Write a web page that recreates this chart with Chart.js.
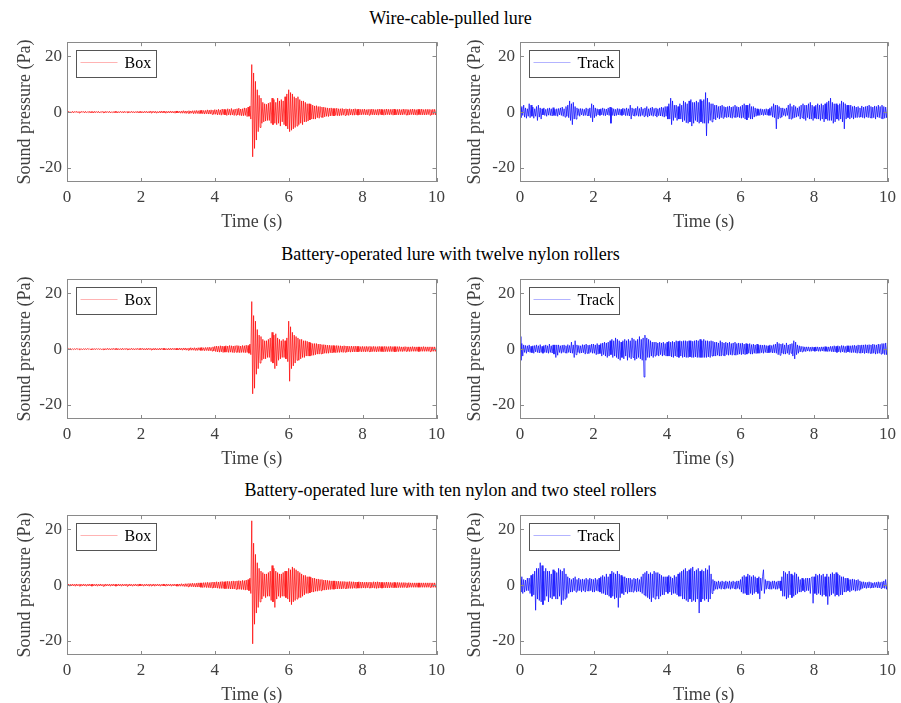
<!DOCTYPE html>
<html lang="en">
<head>
    <meta charset="UTF-8">
    <title>Sound pressure of lures</title>
    <script src="https://cdn.jsdelivr.net/npm/chart.js"></script>
    <style>
        body {
            margin: 0;
            background: #fff;
            overflow: hidden;
            font-family: "Liberation Serif", serif;
        }
        .page {
            position: relative;
            width: 901px;
            height: 703px;
        }
        .row-title {
            position: absolute;
            left: 0;
            width: 901px;
            text-align: center;
            font-size: 18px;
            color: #000;
            line-height: 20px;
        }
        canvas {
            position: absolute;
        }
    </style>
</head>
<body>
<div class="page" id="page">
    <div class="row-title" style="top: 8px;">Wire-cable-pulled lure</div>
    <div class="row-title" style="top: 244px;">Battery-operated lure with twelve nylon rollers</div>
    <div class="row-title" style="top: 480px;">Battery-operated lure with ten nylon and two steel rollers</div>
</div>
<script>
    // sampling step of the traces below (s), 40 samples per second
    const tStep = 0.025;
    const xTicks = [0, 2, 4, 6, 8, 10];
    const yTicks = [-20, 0, 20];

    // wire-cable-pulled lure
    const boxWire = [
        0.3,-0.2,0.2,-0.3,0.1,-0.2,0.3,-0.3,0.2,-0.1, 0.3,-0.2,0.2,-0.3,0.2,-0.2,0.3,-0.1,0.2,-0.3,
        0.3,-0.2,0.1,-0.2,0.3,-0.3,0.2,-0.2,0.2,-0.3, 0.3,-0.2,0.2,-0.2,0.3,-0.3,0.1,-0.2,0.3,-0.2,
        0.2,-0.3,0.3,-0.2,0.2,-0.2,0.3,-0.3,0.1,-0.2, 0.2,-0.3,0.3,-0.2,0.2,-0.3,0.2,-0.2,0.3,-0.2,
        0.2,-0.3,0.3,-0.2,0.2,-0.2,0.3,-0.3,0.2,-0.2, 0.3,-0.2,0.2,-0.3,0.2,-0.2,0.3,-0.3,0.2,-0.2,
        0.3,-0.3,0.2,-0.3,0.3,-0.2,0.3,-0.3,0.2,-0.3, 0.4,-0.3,0.3,-0.2,0.3,-0.3,0.3,-0.4,0.2,-0.3,
        0.3,-0.3,0.4,-0.3,0.3,-0.2,0.3,-0.4,0.3,-0.3, 0.3,-0.3,0.4,-0.3,0.3,-0.3,0.3,-0.4,0.4,-0.3,
        0.4,-0.3,0.3,-0.4,0.4,-0.4,0.5,-0.4,0.4,-0.5, 0.4,-0.4,0.5,-0.5,0.4,-0.4,0.5,-0.6,0.5,-0.5,
        0.6,-0.5,0.5,-0.6,0.6,-0.5,0.7,-0.6,0.6,-0.7, 0.6,-0.6,0.8,-0.7,0.7,-0.7,0.8,-0.8,0.7,-0.8,
        0.9,-0.8,0.8,-1.0,1.0,-0.9,0.8,-1.1,1.1,-0.9, 1.0,-1.0,0.9,-1.2,1.2,-1.0,1.0,-1.1,1.3,-1.0,
        0.9,-1.2,1.1,-1.1,1.2,-1.0,1.4,-1.2,1.1,-1.3, 1.2,-1.3,1.5,-1.2,1.4,-1.6,1.8,-1.5,2.2,-2.5,
        17,-16,14,-13,11,-10,8,-7,6,-5.5, 5,-4,3.5,-3.5,3,-3.2,2.8,-3,3.2,-3,
        3.5,-4,5,-4.5,4.5,-4,3.5,-4.5,5,-4, 4,-5,4.5,-3.5,4,-4.5,5.5,-5,6.5,-6,
        8,-7,7,-6.5,6.5,-6,5.5,-5.5,5,-5, 5.5,-4.5,4.5,-4,4,-4.5,4,-3.5,3.5,-3.5,
        3,-3.2,3,-2.8,2.8,-2.5,2.5,-2.5,2.2,-2.5, 2.3,-2,2,-2.2,2,-1.8,1.8,-2,1.8,-1.7,
        1.6,-1.5,1.5,-1.6,1.4,-1.4,1.5,-1.3,1.3,-1.4, 1.3,-1.2,1.4,-1.3,1.2,-1.3,1.2,-1.2,1.3,-1.1,
        1.1,-1.2,1.2,-1.1,1.1,-1.2,1.2,-1.0,1.0,-1.1, 1.1,-1.1,1.2,-1.0,1.0,-1.1,1.1,-1.0,1.0,-1.0,
        1.0,-0.9,1.1,-1.0,0.9,-1.0,1.0,-1.1,1.0,-0.9, 1.1,-1.0,1.0,-1.0,0.9,-1.0,1.0,-1.1,1.1,-0.9,
        1.0,-1.0,0.9,-1.1,1.0,-1.0,1.1,-0.9,1.0,-1.0, 1.0,-0.9,1.0,-1.1,1.1,-1.0,0.9,-1.0,1.0,-1.0,
        1.0,-1.0,0.9,-1.0,1.1,-0.9,1.0,-1.0,1.0,-1.1, 0.9,-1.0,1.0,-0.9,1.1,-1.0,1.0,-1.0,0.9,-1.1,
        1.0,-0.9,1.0,-1.0,1.1,-1.0,0.9,-1.0,1.0,-1.0, 1.0,-0.9,1.0,-1.1,0.9,-1.0,1.0,-0.9,1.0,-1.0,
        0.9
    ];
    const trackWire = [
        1.5,-2,2,-1.2,2.5,-1.8,1.5,-2.2,1.2,-1.5, 3,-2,2.5,-1.5,1.8,-2.2,1.2,-1.5,2,-3,
        2.5,-1.8,1.5,-2.5,1.2,-1,1.5,-1.2,1,-1.5, 1.3,-1.1,1.5,-1.2,1.2,-1.4,1.6,-1.2,1,-1.3,
        1.2,-1.5,1.3,-1,1.5,-1.2,1.8,-1.5,1.2,-1.8, 2,-1.5,2.5,-2,4,-3,3,-4.5,3.5,-2.5,
        2,-2.5,1.5,-1.2,1.2,-1.5,1.3,-1,1.2,-1.3, 1,-1.2,1.5,-1.2,1.2,-1.4,1.5,-2,3,-3.5,
        2.5,-2,1.5,-1.5,1.2,-1,1,-1.2,1.2,-1, 1.5,-1.2,1.2,-1.3,1.1,-1,1.5,-1.2,1.8,-4,
        1.5,-1.2,1.2,-1.4,1,-1.2,1.3,-1,1.2,-1.1, 1,-1.2,1.4,-1,1.2,-1.3,1.5,-1.2,1.2,-1.4,
        2.5,-2.5,1.5,-1.2,1.2,-1.5,1.4,-1.2,2,-1.5, 1.3,-1.5,1.8,-1.2,1.2,-1.6,1.5,-1.3,2,-1.8,
        1.2,-1.4,1.5,-1.2,1.8,-1.5,1.3,-1.2,1.5,-1.8, 1.2,-1.3,1.5,-1.4,1.8,-1.5,1.6,-1.8,2,-1.5,
        2,-2.5,3,-2.5,5,-4.5,4,-3,2.5,-2, 2.5,-3,2,-2.5,3,-2.5,2.5,-3.5,4,-3,
        3.5,-3.8,3,-4,4,-3.5,4.5,-5,3.5,-4, 3.5,-3,4,-3.5,3.5,-4,4.5,-3.5,4,-4,
        4.5,-4,7,-8.5,5,-4,3.5,-3,3,-3.5, 3,-2.5,2.5,-2.8,2.5,-2,2,-2.5,2.2,-2,
        2.5,-2.2,2,-1.8,1.8,-2,2,-1.8,2.2,-2, 1.8,-2.2,2,-1.8,2.5,-2,2,-1.8,1.8,-2,
        2,-2.2,2.5,-2,3,-2.5,2.5,-2.8,2.5,-2, 3,-2.5,2,-2.5,2,-1.8,1.5,-1.5,1.2,-1.2,
        1,-1.2,1.2,-1,1,-1.2,1,-1,1.2,-1.1, 1,-1.2,1.5,-1.2,2,-1.8,3,-2,2.5,-6,
        2.5,-2.5,2,-2,1.5,-1.8,1.5,-1.2,1.2,-1.5, 1.5,-1.2,2.5,-2.5,3,-2.5,2,-2.2,2.5,-2,
        2,-1.8,1.5,-1.5,2,-2.5,2.5,-2,3,-2.5, 2.5,-3,2.5,-2,3,-2.5,3.5,-2.5,2.5,-3,
        2,-2.2,2.5,-2.5,3,-2.5,2.5,-3,3,-2.5, 2.5,-3.5,3,-2.5,3.5,-3,4,-3,5,-3,
        3.5,-4,3,-3.5,3,-2.5,2.5,-3,3,-2.5, 4,-3.5,3.5,-6,3,-2.5,2.5,-2,2.5,-2.5,
        2.5,-2,2,-2.5,2.2,-2,1.8,-2,2,-1.8, 1.5,-1.8,2.2,-2,1.8,-2.2,2,-1.8,2.2,-2,
        2.5,-2,2,-2.2,1.8,-2,2.2,-2.5,2,-1.8, 2.5,-2,2,-2.2,2.5,-2.5,2,-2.2,1.8,-2,
        1.5
    ];

    // twelve nylon rollers
    const boxNylon = [
        0.2,-0.2,0.2,-0.1,0.2,-0.2,0.1,-0.2,0.2,-0.2, 0.2,-0.1,0.2,-0.2,0.2,-0.2,0.1,-0.2,0.2,-0.2,
        0.2,-0.2,0.2,-0.1,0.2,-0.2,0.1,-0.2,0.2,-0.2, 0.2,-0.2,0.2,-0.1,0.2,-0.2,0.2,-0.2,0.1,-0.2,
        0.2,-0.3,0.2,-0.2,0.3,-0.2,0.2,-0.3,0.2,-0.2, 0.3,-0.2,0.2,-0.2,0.3,-0.3,0.2,-0.2,0.2,-0.3,
        0.3,-0.2,0.2,-0.2,0.3,-0.2,0.2,-0.3,0.2,-0.2, 0.3,-0.2,0.2,-0.3,0.2,-0.2,0.3,-0.2,0.2,-0.2,
        0.3,-0.2,0.3,-0.3,0.2,-0.3,0.3,-0.3,0.3,-0.2, 0.3,-0.3,0.2,-0.3,0.3,-0.3,0.3,-0.3,0.2,-0.3,
        0.3,-0.3,0.3,-0.2,0.3,-0.3,0.3,-0.3,0.2,-0.3, 0.3,-0.3,0.3,-0.3,0.3,-0.2,0.3,-0.3,0.3,-0.3,
        0.3,-0.3,0.4,-0.3,0.3,-0.4,0.4,-0.3,0.4,-0.4, 0.3,-0.4,0.4,-0.4,0.5,-0.4,0.4,-0.4,0.5,-0.5,
        0.4,-0.5,0.5,-0.4,0.5,-0.5,0.6,-0.5,0.5,-0.6, 0.6,-0.5,0.6,-0.6,0.7,-0.6,0.6,-0.7,0.8,-0.7,
        1.0,-0.9,1.1,-1.0,1.0,-1.1,1.2,-1.0,1.1,-1.2, 1.0,-1.1,1.2,-1.1,1.1,-1.2,1.3,-1.1,1.2,-1.2,
        1.1,-1.3,1.2,-1.1,1.3,-1.2,1.2,-1.3,1.1,-1.2, 1.3,-1.2,1.2,-1.3,1.4,-1.2,1.3,-1.5,1.8,-2,
        17,-16,12,-14,10,-9,7,-7,5,-5, 4.5,-4,3.5,-3.5,3,-3.5,3,-3,3.5,-3,
        4,-4.5,6,-5,5,-7,5.5,-6,4,-4, 3.5,-3.5,3,-3,3.5,-3,3,-3.5,4,-4.5,
        10,-11.5,8,-7,6,-6,5,-5,4.5,-4, 4,-4,3.5,-3.5,3.5,-3,3,-3,3,-2.5,
        2.8,-2.5,2.5,-2.5,2.2,-2.3,2,-2.2,2,-2, 2,-1.8,1.8,-1.8,1.8,-1.7,1.6,-1.7,1.6,-1.5,
        1.5,-1.5,1.4,-1.5,1.4,-1.3,1.3,-1.4,1.3,-1.2, 1.2,-1.3,1.3,-1.2,1.2,-1.2,1.2,-1.1,1.1,-1.2,
        1.2,-1.1,1.1,-1.1,1.1,-1.0,1.0,-1.1,1.1,-1.0, 1.0,-1.0,1.1,-1.0,1.0,-1.0,1.0,-0.9,0.9,-1.0,
        1.0,-0.9,0.9,-1.0,1.0,-0.9,0.9,-0.9,1.0,-1.0, 0.9,-0.9,1.0,-0.9,0.9,-1.0,0.9,-0.9,1.0,-0.9,
        0.9,-0.9,0.9,-1.0,1.0,-0.9,0.9,-0.9,0.9,-0.9, 1.0,-0.9,0.9,-0.9,0.9,-1.0,0.9,-0.9,0.9,-0.9,
        0.9,-0.8,0.8,-0.9,0.8,-0.8,0.9,-0.8,0.8,-0.8, 0.8,-0.9,0.8,-0.8,0.9,-0.8,0.8,-0.8,0.8,-0.8,
        0.8,-0.9,0.8,-0.8,0.8,-0.8,0.9,-0.8,0.8,-0.8, 0.8,-0.8,0.8,-0.9,0.8,-0.8,0.8,-0.8,0.8,-0.8,
        0.7
    ];
    const trackNylon = [
        4.5,-4,2,-2.5,1.5,-1.2,1.3,-1.5,1.2,-1, 1.5,-1.2,1,-1.3,1.2,-1.5,1.3,-1,1.5,-1.2,
        1.2,-1.4,1.6,-1.2,1,-1.5,1.3,-1.2,1.5,-1.3, 1.2,-1.5,1.8,-1.2,1.2,-1.4,1.5,-1.8,1.5,-3,
        1.5,-2.2,1.5,-1.2,1.2,-1.5,1.4,-1.2,1.5,-1.3, 1.2,-1.5,1.6,-1.2,1.3,-1.4,2.5,-1.5,1.5,-3,
        3,-2,1.5,-1.2,1.3,-1.5,1.2,-1.4,1.6,-1.3, 1.5,-1.8,1.8,-1.5,1.4,-1.6,1.5,-1.2,1.8,-1.5,
        1.8,-1.5,1.5,-2,2,-1.8,1.5,-1.6,2,-2.5, 2.2,-2,2.5,-2.5,2.2,-3,2.5,-2.5,3,-2,
        3.5,-3,3,-2.5,4,-3,3.5,-3.5,3,-4, 2.5,-3,3,-3.5,3.5,-2.5,3,-4,3.5,-3,
        3,-3.5,4,-3,3.5,-4,3,-3.5,3.5,-3, 4.5,-3.5,3.5,-4,4,-10,5,-4,4,-3,
        3.5,-3,3,-2.5,2.5,-3,2.5,-2.5,2.5,-2.2, 2.2,-2.5,2.5,-2,2.2,-2.5,2.5,-2.2,2,-2.5,
        2.5,-2.5,2.8,-2.5,2.5,-2.8,2.8,-3,2.5,-2.5, 3,-2.8,2.8,-3,3,-2.5,2.8,-3,3,-2.8,
        3,-3,2.8,-3,3,-2.8,3,-3,2.8,-3, 3,-2.8,3.2,-3,3,-3,3.5,-3,3,-3,
        3.5,-3,3,-3,3,-2.8,2.8,-3,3,-2.5, 2.8,-2.5,2.5,-2.5,2.5,-2.2,2.2,-2.5,3,-2.5,
        2.5,-2.2,2.2,-2.5,2.5,-2,2.2,-2.2,2.5,-2, 2,-2.2,2.2,-2,2.5,-2.2,2,-2,2.2,-1.8,
        2,-2,2.2,-1.8,1.8,-2,2,-1.8,1.8,-1.5, 2,-1.8,1.6,-1.8,1.8,-1.5,1.5,-1.6,1.8,-1.5,
        1.4,-1.5,1.5,-1.3,1.4,-1.5,1.5,-1.2,1.3,-1.4, 1.2,-1.3,1.5,-1.2,1.3,-1.4,1.6,-1.3,1.8,-1.5,
        2.5,-2,2,-2.2,1.8,-1.5,2,-1.8,1.5,-1.8, 2.2,-1.5,1.5,-2,1.8,-1.5,2,-2.5,3,-3.5,
        2.5,-2,1.5,-1.5,1.2,-1,1,-1,0.9,-0.8, 0.8,-0.9,0.8,-0.7,0.8,-0.8,0.7,-0.8,0.8,-0.7,
        0.7,-0.8,0.8,-0.7,0.8,-0.8,0.7,-0.8,0.8,-0.7, 0.8,-0.8,0.9,-0.8,0.8,-0.9,0.8,-0.8,1,-0.9,
        1,-1,1.2,-1,1,-1.2,1.2,-1,1,-1.2, 1.3,-1,1.2,-1.2,1,-1.3,1.2,-1,1.2,-1.2,
        1.2,-1.3,1.3,-1.2,1.4,-1.3,1.2,-1.5,1.5,-1.3, 1.4,-1.5,1.5,-1.4,1.5,-1.6,1.6,-1.4,1.5,-1.5,
        1.6,-1.5,1.5,-1.6,1.8,-1.5,1.6,-1.8,1.5,-1.6, 1.8,-1.5,1.7,-1.8,2,-1.6,2,-2,2.2,-2,
        1.5
    ];

    // ten nylon and two steel rollers
    const boxSteel = [
        0.4,-0.3,0.3,-0.4,0.3,-0.3,0.4,-0.3,0.3,-0.4, 0.4,-0.3,0.3,-0.3,0.4,-0.4,0.3,-0.3,0.4,-0.3,
        0.3,-0.4,0.3,-0.3,0.4,-0.3,0.3,-0.4,0.4,-0.3, 0.3,-0.3,0.4,-0.4,0.3,-0.3,0.4,-0.3,0.3,-0.4,
        0.3,-0.4,0.4,-0.3,0.3,-0.3,0.4,-0.4,0.3,-0.3, 0.4,-0.3,0.3,-0.4,0.3,-0.3,0.4,-0.3,0.3,-0.4,
        0.4,-0.3,0.3,-0.3,0.4,-0.4,0.3,-0.3,0.4,-0.3, 0.3,-0.4,0.3,-0.3,0.4,-0.3,0.3,-0.4,0.4,-0.3,
        0.4,-0.3,0.3,-0.4,0.3,-0.3,0.4,-0.3,0.3,-0.4, 0.4,-0.3,0.3,-0.3,0.4,-0.4,0.3,-0.3,0.4,-0.3,
        0.3,-0.4,0.3,-0.3,0.4,-0.3,0.3,-0.4,0.4,-0.3, 0.3,-0.3,0.4,-0.4,0.3,-0.3,0.4,-0.3,0.3,-0.4,
        0.4,-0.4,0.4,-0.4,0.5,-0.4,0.4,-0.5,0.5,-0.5, 0.5,-0.6,0.6,-0.5,0.6,-0.6,0.7,-0.6,0.6,-0.7,
        0.7,-0.7,0.8,-0.7,0.8,-0.8,0.8,-0.9,0.9,-0.8, 0.9,-0.9,1.0,-0.9,0.9,-1.0,1.0,-1.0,1.1,-1.0,
        1.1,-1.0,1.2,-1.1,1.1,-1.2,1.2,-1.2,1.3,-1.2, 1.2,-1.3,1.3,-1.3,1.4,-1.3,1.3,-1.4,1.4,-1.4,
        1.5,-1.4,1.4,-1.5,1.5,-1.5,1.6,-1.5,1.5,-1.6, 1.7,-1.6,1.6,-1.8,1.8,-1.7,2,-2,2.5,-3,
        23,-21,15,-14,11,-10,8,-8,6,-6, 5,-5,4.5,-4,4,-4.5,4,-4,4.5,-4,
        5,-5.5,7,-6,6,-8,5,-5,4.5,-4, 4,-4.5,4,-4,4.5,-4,5,-4.5,5,-5,
        6,-6,5.5,-7,6.5,-6,6,-5.5,5.5,-5, 5,-4.5,4.5,-4.5,4,-4,3.5,-3.5,3.5,-3,
        3,-3,3,-2.8,2.8,-2.5,2.5,-2.5,2.5,-2.2, 2.2,-2.2,2.2,-2,2,-2,2,-1.8,1.8,-1.8,
        1.8,-1.7,1.7,-1.6,1.6,-1.6,1.5,-1.5,1.5,-1.5, 1.5,-1.4,1.4,-1.4,1.4,-1.3,1.3,-1.4,1.3,-1.3,
        1.3,-1.2,1.2,-1.3,1.2,-1.2,1.3,-1.2,1.2,-1.2, 1.2,-1.1,1.1,-1.2,1.1,-1.1,1.2,-1.1,1.1,-1.1,
        1.1,-1.0,1.0,-1.1,1.1,-1.0,1.0,-1.0,1.1,-1.1, 1.0,-1.0,1.2,-1.1,1.1,-1.2,1.2,-1.1,1.1,-1.0,
        1.0,-1.1,1.0,-1.0,1.0,-1.0,1.1,-1.0,1.0,-1.0, 1.0,-0.9,0.9,-1.0,1.0,-0.9,0.9,-1.0,1.0,-0.9,
        0.9,-0.9,0.9,-0.9,0.9,-0.9,0.9,-0.8,0.8,-0.9, 0.9,-0.8,0.8,-0.8,0.8,-0.8,0.8,-0.8,0.8,-0.8,
        0.8,-0.8,0.8,-0.8,0.8,-0.8,0.8,-0.8,0.8,-0.8, 0.8,-0.8,0.8,-0.8,0.8,-0.8,0.8,-0.8,0.8,-0.8,
        0.7
    ];
    const trackSteel = [
        2,-2.5,3,-3,2,-2.5,1.8,-2,2.5,-2, 2.5,-3,3.5,-4,4,-3.5,5,-9,6,-5,
        6,-5.5,8,-6,7,-7,5,-5.5,6,-4, 5,-6,5,-4.5,4,-5,5.5,-4,5,-5,
        4.5,-5,6,-4,5.5,-7,5,-5.5,6,-5, 4,-4.5,3,-3,2.5,-2.5,2,-2.5,2.5,-2,
        3,-2.5,2,-2,2.5,-2,2,-2.5,2.2,-2, 2,-2.5,2.5,-2,2,-2.2,2.5,-2,2.2,-2.5,
        2,-2.5,2.5,-2,2,-2.2,2.5,-2.5,3,-3, 3.5,-3,3,-3.5,4,-3.5,3,-4,4,-4.5,
        5,-4,4.5,-5,4,-4.5,5,-8,4,-4.5, 3.5,-3,3,-3.5,3,-2.5,2.5,-3,2.5,-2.5,
        2.5,-2.5,2,-2.5,2.5,-2,2.2,-2.5,2.5,-2.2, 2,-2.5,3,-3,4,-3.5,4.5,-4,5,-4.5,
        4,-5,4.5,-6,4,-4.5,5,-5,4.5,-4, 4.5,-5,4,-4,3.5,-3.5,3,-3.5,3,-2.5,
        3,-3,3.5,-2.5,3,-3.5,2.5,-3,3.5,-3, 3,-3.5,4,-4,4.5,-4,5,-5,5.5,-5,
        6,-5.5,5,-6,5.5,-5,6,-6,6.5,-5.5, 5,-6,5.5,-5,6,-10,5,-6,5.5,-5,
        5,-5.5,6,-5,5.5,-6,7,-5,4,-3, 2,-2,1.5,-1.5,1.2,-1.5,1.5,-1.2,1.2,-1.5,
        1.5,-1.2,1.2,-1.5,1.5,-1.2,1.2,-1.2,1.5,-1.5, 1.2,-1.2,1.5,-1.2,1.2,-1.5,1.5,-1.2,1.5,-1.5,
        2,-2.5,3,-3,3.5,-3,3,-3.5,4,-3.5, 3.5,-3,3,-3.5,3.5,-3,3,-2.5,2.5,-3,
        3,-5,2.5,-2,3,5.5,-3,2,-1.5,1.5, -1.2,1.5,-1.5,1.2,-1.5,1.5,-1.2,1.5,-1.5,1.2,
        -1.5,1.5,-1.2,1.5,-2,3,-4,5,-4,4.5, -5,4,-4.5,5,-3.5,4,-4.5,3.5,-4,4.5,
        -3.5,4,-3,3,-2.5,2,-2.5,2.5,-2,2, -2.5,2.5,-2,2.5,-2,2.5,-3,2.5,3,-6.5,
        3,-3,4,-3.5,3.5,-3,4,-3.5,3.5,-4, 4,-3.5,3,-4,4,-7,3,-4,4,-3.5,
        4.5,-3,4,-4,4.5,-3.5,4,-4,3.5,-3.5, 3,-3.5,3,-2.5,2.5,-2.5,2.5,-2,2,-2.5,
        2,-2,2.2,-1.8,2,-2.2,1.8,-2,2,-1.8, 1.5,-1.5,1.2,-1.2,1.2,-1,1,-1.2,1,-1,
        1.2,-1,1,-1,0.8,-1,1,-0.8,1,-1, 1.2,-1,1,-1.2,1.2,-1,1.5,-1.2,2,-1.5,
        1
    ];

    const boxColor = '#ff0000';
    const trackColor = '#0000ff';

    const panels = [
        { values: boxWire, color: boxColor, legendColor: '#ffb3b3', label: 'Box', left: 0, top: 27, width: 450 },
        { values: trackWire, color: trackColor, legendColor: '#b3b3ff', label: 'Track', left: 450, top: 27, width: 451 },
        { values: boxNylon, color: boxColor, legendColor: '#ffb3b3', label: 'Box', left: 0, top: 264, width: 450 },
        { values: trackNylon, color: trackColor, legendColor: '#b3b3ff', label: 'Track', left: 450, top: 264, width: 451 },
        { values: boxSteel, color: boxColor, legendColor: '#ffb3b3', label: 'Box', left: 0, top: 500, width: 450 },
        { values: trackSteel, color: trackColor, legendColor: '#b3b3ff', label: 'Track', left: 450, top: 500, width: 451 }
    ];

    const serif = '"Liberation Serif", serif';
    const tickColor = '#404040';

    // MATLAB-style box with inward ticks and a legend inside the plot
    const framePlugin = {
        id: 'frame',
        afterDatasetsDraw(chart, args, opts) {
            const { ctx, chartArea: a, scales } = chart;
            ctx.save();
            ctx.strokeStyle = '#8a8a8a';
            ctx.lineWidth = 1;
            ctx.strokeRect(Math.round(a.left) + 0.5, Math.round(a.top) + 0.5,
                Math.round(a.width) - 1, Math.round(a.height) - 1);
            ctx.beginPath();
            scales.x.ticks.forEach(t => {
                const px = Math.round(scales.x.getPixelForValue(t.value)) + 0.5;
                ctx.moveTo(px, a.bottom); ctx.lineTo(px, a.bottom - 4);
                ctx.moveTo(px, a.top); ctx.lineTo(px, a.top + 4);
            });
            scales.y.ticks.forEach(t => {
                const py = Math.round(scales.y.getPixelForValue(t.value)) + 0.5;
                ctx.moveTo(a.left, py); ctx.lineTo(a.left + 4, py);
                ctx.moveTo(a.right, py); ctx.lineTo(a.right - 4, py);
            });
            ctx.stroke();

            // legend
            ctx.font = '16px ' + serif;
            const tw = ctx.measureText(opts.label).width;
            const lx = Math.round(a.left + 9) + 0.5;
            const ly = Math.round(a.top + 8) + 0.5;
            const lw = Math.round(4 + 37 + 7 + tw + 5);
            const lh = 27;
            ctx.fillStyle = '#fff';
            ctx.fillRect(lx, ly, lw, lh);
            ctx.strokeStyle = '#555';
            ctx.strokeRect(lx, ly, lw, lh);
            ctx.strokeStyle = opts.color;
            ctx.beginPath();
            ctx.moveTo(lx + 4, ly + 12);
            ctx.lineTo(lx + 41, ly + 12);
            ctx.stroke();
            ctx.fillStyle = '#000';
            ctx.textBaseline = 'middle';
            ctx.fillText(opts.label, lx + 48, ly + 13);
            ctx.restore();
        }
    };

    const page = document.getElementById('page');

    panels.forEach(p => {
        const canvas = document.createElement('canvas');
        canvas.width = p.width;
        canvas.height = 210;
        canvas.style.left = p.left + 'px';
        canvas.style.top = p.top + 'px';
        page.appendChild(canvas);

        const points = p.values.map((v, i) => ({ x: i * tStep, y: v }));
        const isRight = p.left > 0;

        new Chart(canvas.getContext('2d'), {
            type: 'line',
            data: {
                datasets: [{
                    label: p.label,
                    data: points,
                    borderColor: p.color,
                    borderWidth: 0.7,
                    pointRadius: 0,
                    tension: 0
                }]
            },
            options: {
                responsive: false,
                animation: false,
                layout: { padding: { top: 10, right: isRight ? 8 : 9, bottom: 0, left: 0 } },
                plugins: {
                    legend: { display: false },
                    tooltip: { enabled: false },
                    frame: { label: p.label, color: p.legendColor }
                },
                scales: {
                    x: {
                        type: 'linear',
                        min: 0,
                        max: 10,
                        afterBuildTicks: s => { s.ticks = xTicks.map(v => ({ value: v })); },
                        afterFit: s => { s.height = 55; },
                        grid: { display: false, drawTicks: false },
                        border: { display: false },
                        ticks: { color: tickColor, font: { family: serif, size: 17 }, padding: 5, maxRotation: 0 },
                        title: { display: true, text: 'Time (s)', color: tickColor, font: { family: serif, size: 18 }, padding: { top: 0, bottom: 4 } }
                    },
                    y: {
                        min: -25,
                        max: 25,
                        afterBuildTicks: s => { s.ticks = yTicks.map(v => ({ value: v })); },
                        afterFit: s => { s.width = isRight ? 70 : 67; },
                        grid: { display: false, drawTicks: false },
                        border: { display: false },
                        ticks: { color: tickColor, font: { family: serif, size: 17 }, padding: 5 },
                        title: { display: true, text: 'Sound pressure (Pa)', color: tickColor, font: { family: serif, size: 18 }, padding: { top: 14, bottom: 0 } }
                    }
                }
            },
            plugins: [framePlugin]
        });
    });
</script>
</body>
</html>
